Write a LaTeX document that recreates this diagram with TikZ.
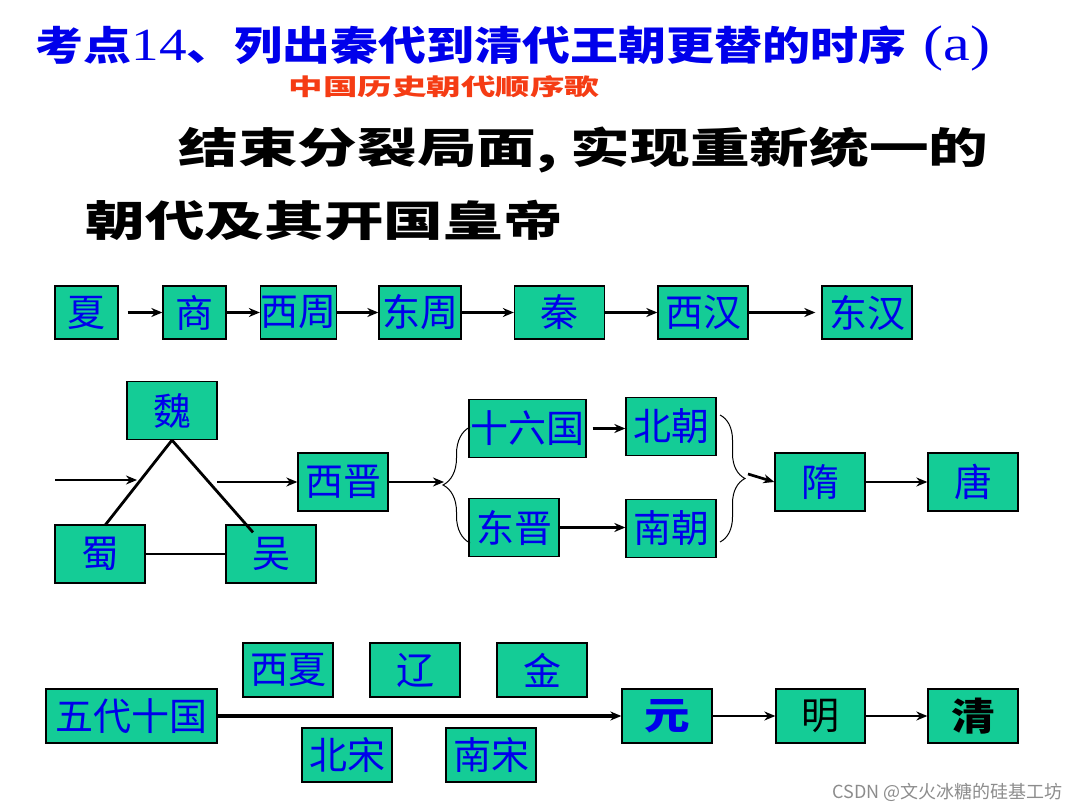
\documentclass[tikz,border=0pt]{standalone}
\usepackage{fontspec}
\usetikzlibrary{arrows.meta,positioning,calc,decorations.pathreplacing}
\newfontfamily\cjk{Noto Sans CJK SC}
\newfontfamily\serifnum{Liberation Serif}
\definecolor{boxgreen}{RGB}{20,204,150}
\definecolor{dynblue}{RGB}{0,0,235}
\definecolor{songred}{RGB}{245,60,20}

\begin{document}
\begin{tikzpicture}[x=1pt,y=-1pt,
  box/.style={draw,line width=1.3pt,fill=boxgreen,inner sep=0pt,text=dynblue,font=\cjk\fontsize{38}{38}\selectfont,minimum width=90pt,minimum height=58pt},
  link/.style={line width=2.7pt,-{Stealth[length=11pt,width=9pt]}},
  bar/.style={line width=2.8pt},
  brace/.style={decorate,line width=1pt}]
\useasboundingbox (0,0) rectangle (1080,810);
% headings
\node[anchor=west,text=dynblue,font=\cjk\bfseries\fontsize{40}{40}\selectfont](title) at (32,48){\scalebox{1.2}[1]{考点{\serifnum\mdseries\fontsize{46}{46}\selectfont 14}、列出秦代到清代王朝更替的时序\hspace{14pt}{\serifnum\mdseries\fontsize{50}{50}\selectfont(a)}}};
\node[anchor=west,text=songred,font=\cjk\bfseries\fontsize{23}{23}\selectfont](song) at (285,87){\scalebox{1.5}[1]{中国历史朝代顺序歌}};
\node[anchor=west,font=\cjk\bfseries\fontsize{42}{42}\selectfont](lineA) at (175,150){\scalebox{1.42}[1]{结束分裂局面, 实现重新统一的}};
\node[anchor=west,font=\cjk\bfseries\fontsize{42}{42}\selectfont](lineB) at (82,220){\scalebox{1.42}[1]{朝代及其开国皇帝}};
% row 1
\node[box,minimum width=63pt,minimum height=53pt](xia) at (86.5,312.5){夏};
\node[box,minimum width=63pt,minimum height=53pt](shang) at (194.5,312.5){商};
\node[box,minimum width=71pt,minimum height=53pt](xizhou) at (298.5,312.5){西周};
\node[box,minimum width=82pt,minimum height=53pt](dongzhou) at (420,312.5){东周};
\node[box,minimum height=53pt](qin) at (559.5,312.5){秦};
\node[box,minimum height=53pt](xihan) at (703,312.5){西汉};
\node[box,minimum height=53pt](donghan) at (867,312.5){东汉};
\draw[link,shorten <=9pt](xia)--(shang);
\draw[link](shang)--(xizhou);
\draw[link](xizhou)--(dongzhou);
\draw[link](dongzhou)--(qin);
\draw[link](qin)--(xihan);
\draw[link,shorten >=6pt](xihan)--(donghan);
% row 2
\node[box](wei) at (172,410.5){魏};
\node[box](shu) at (100,554){蜀};
\node[box](wu) at (271,554){吴};
\node[box](xijin) at (343,482){西晋};
\node[box,minimum width=117pt](shiliu) at (527.5,428.5){十六国};
\node[box](beichao) at (671,426.5){北朝};
\node[box](dongjin) at (514,527.5){东晋};
\node[box](nanchao) at (671,528.5){南朝};
\node[box](sui) at (820,482){隋};
\node[box](tang) at (973,482){唐};
\coordinate (sanin) at (55,480);
\coordinate (sanmid) at (137,480);
\coordinate (sanout) at (217,482);
\draw[link](sanin)--(sanmid);
\draw[bar](wei.south)--($(shu.north)+(5,1)$);
\draw[bar](wei.south)--($(wu.north)+(-18,8)$);
\draw[bar](shu.east)--(wu.west);
\draw[link](sanout)--(xijin.west);
\coordinate (lbtop) at (470,427);
\coordinate (lbbot) at (470,543);
\coordinate (lbtip) at (444,482);
\draw[brace,decoration={brace,amplitude=27pt}](lbbot)--(lbtop);
\draw[link](xijin.east)--(lbtip);
\draw[link,shorten <=6pt](shiliu.east)--(shiliu.east -| beichao.west);
\draw[link](dongjin.east)--(dongjin.east -| nanchao.west);
\coordinate (rbtop) at (720,415);
\coordinate (rbbot) at (720,542);
\coordinate (rbtip) at (748,474);
\draw[brace,decoration={brace,amplitude=25pt}](rbtop)--(rbbot);
\draw[link](rbtip)--(sui.west);
\draw[link](sui)--(tang);
% row 3
\node[box,minimum width=171pt,minimum height=54pt](wudai) at (131.5,716){五代十国};
\node[box,minimum height=54pt](xixia) at (288,670){西夏};
\node[box,minimum height=54pt](liao) at (415,670){辽};
\node[box,minimum height=54pt](jin) at (542,670){金};
\node[box,minimum height=54pt](beisong) at (347,755){北宋};
\node[box,minimum height=54pt](nansong) at (491,755){南宋};
\node[box,minimum height=54pt,font=\cjk\bfseries\fontsize{38}{38}\selectfont](yuan) at (667,716){\scalebox{1.2}[1]{元}};
\node[box,minimum width=89pt,minimum height=54pt,text=black](ming) at (820.5,716){明};
\node[box,minimum height=54pt,text=black,font=\cjk\bfseries\fontsize{38}{38}\selectfont](qing) at (973,716){\scalebox{1.15}[1]{清}};
\draw[link,line width=3.4pt](wudai)--(yuan);
\draw[link](yuan)--(ming);
\draw[link](ming)--(qing);
% watermark
\node[anchor=east,text=black!45,font=\cjk\fontsize{18}{18}\selectfont](mark) at (1066,792){CSDN @文火冰糖的硅基工坊};
\end{tikzpicture}
\end{document}
